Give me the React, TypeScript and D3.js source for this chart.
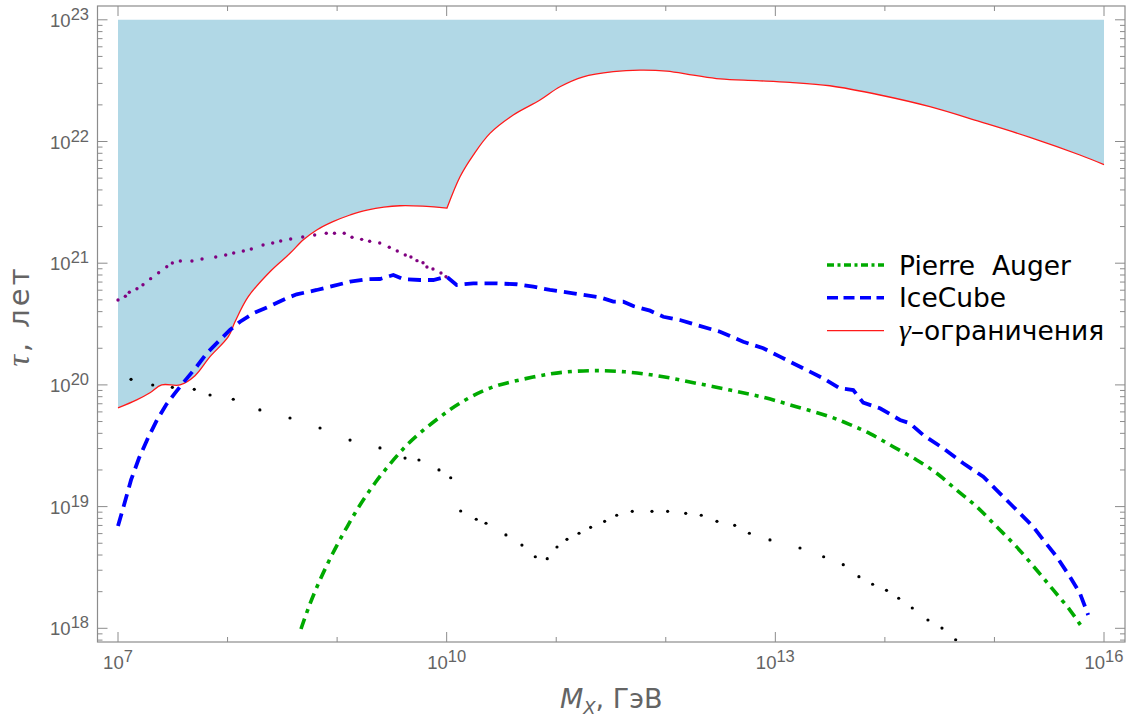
import React from "react";
import * as d3 from "d3";

// ---- data (log10 of mass in GeV, log10 of lifetime in years) ----
const gammaLogM = [7.0, 7.171, 7.292, 7.399, 7.566, 7.703, 7.84, 8.007, 8.068, 8.189, 8.387, 8.57, 8.689, 8.814, 8.962, 9.118, 9.273, 9.574, 10.003, 10.122, 10.243, 10.395, 10.608, 10.852, 11.034, 11.247, 11.521, 11.764, 12.008, 12.251, 12.495, 12.83, 13.133, 13.498, 13.955, 14.411, 14.867, 15.324, 15.78, 16.0];
const gammaLogTau = [19.811, 19.877, 19.936, 20.0, 20.0, 20.076, 20.232, 20.396, 20.519, 20.725, 20.93, 21.081, 21.19, 21.273, 21.341, 21.396, 21.437, 21.472, 21.453, 21.711, 21.889, 22.067, 22.218, 22.341, 22.45, 22.532, 22.574, 22.587, 22.579, 22.546, 22.514, 22.5, 22.486, 22.458, 22.382, 22.286, 22.163, 22.034, 21.889, 21.81];
const gammaKinkLogM = 10.003;

const iceLogM = [7.0, 7.055, 7.119, 7.192, 7.274, 7.356, 7.438, 7.52, 7.596, 7.718, 7.81, 7.915, 8.022, 8.114, 8.235, 8.387, 8.54, 8.631, 8.814, 8.965, 9.118, 9.27, 9.391, 9.513, 9.604, 9.756, 9.878, 10.0, 10.091, 10.243, 10.426, 10.639, 10.791, 10.943, 11.156, 11.399, 11.521, 11.612, 11.703, 11.856, 11.977, 12.129, 12.282, 12.495, 12.707, 12.89, 13.042, 13.255, 13.437, 13.59, 13.711, 13.802, 13.955, 14.138, 14.229, 14.35, 14.533, 14.715, 14.898, 15.02, 15.172, 15.354, 15.446, 15.568, 15.689, 15.78, 15.856];
const iceLogTau = [18.841, 19.013, 19.219, 19.399, 19.564, 19.712, 19.835, 19.933, 20.018, 20.15, 20.26, 20.355, 20.451, 20.519, 20.588, 20.648, 20.712, 20.744, 20.78, 20.813, 20.848, 20.868, 20.87, 20.903, 20.868, 20.862, 20.862, 20.889, 20.821, 20.835, 20.835, 20.827, 20.807, 20.78, 20.753, 20.72, 20.684, 20.684, 20.648, 20.61, 20.56, 20.533, 20.492, 20.437, 20.355, 20.301, 20.232, 20.136, 20.054, 19.972, 19.958, 19.854, 19.808, 19.712, 19.684, 19.588, 19.479, 19.356, 19.246, 19.136, 18.999, 18.835, 18.726, 18.588, 18.424, 18.288, 18.109];

const augerLogM = [8.67, 8.752, 8.844, 8.962, 9.09, 9.209, 9.346, 9.483, 9.62, 9.757, 9.939, 10.122, 10.395, 10.788, 11.065, 11.369, 11.673, 11.977, 12.282, 12.586, 12.89, 13.192, 13.497, 13.681, 13.864, 14.076, 14.29, 14.473, 14.655, 14.838, 15.02, 15.2, 15.385, 15.537, 15.689, 15.796];
const augerLogTau = [17.994, 18.2, 18.397, 18.619, 18.832, 19.013, 19.194, 19.35, 19.49, 19.605, 19.736, 19.851, 19.974, 20.064, 20.104, 20.117, 20.104, 20.067, 20.013, 19.958, 19.898, 19.821, 19.739, 19.674, 19.6, 19.492, 19.383, 19.274, 19.136, 18.999, 18.835, 18.671, 18.479, 18.315, 18.15, 18.013];

const blackLogM = [7.119, 7.317, 7.496, 7.696, 7.84, 8.052, 8.295, 8.57, 8.844, 9.118, 9.391, 9.62, 9.747, 9.93, 10.037, 10.128, 10.27, 10.359, 10.541, 10.687, 10.809, 10.918, 11.007, 11.098, 11.208, 11.314, 11.442, 11.552, 11.694, 11.874, 12.017, 12.182, 12.324, 12.467, 12.629, 12.763, 12.951, 13.225, 13.441, 13.62, 13.763, 13.888, 14.015, 14.126, 14.25, 14.393, 14.521, 14.646];
const blackLogTau = [20.046, 19.999, 19.98, 19.964, 19.917, 19.882, 19.794, 19.728, 19.646, 19.547, 19.482, 19.399, 19.383, 19.301, 19.237, 18.964, 18.896, 18.863, 18.767, 18.684, 18.588, 18.572, 18.668, 18.731, 18.781, 18.83, 18.879, 18.929, 18.961, 18.961, 18.961, 18.945, 18.929, 18.879, 18.846, 18.781, 18.726, 18.66, 18.588, 18.523, 18.424, 18.362, 18.312, 18.247, 18.167, 18.068, 18.002, 17.906];

const purpleLogM = [7.0, 7.067, 7.103, 7.173, 7.228, 7.298, 7.371, 7.445, 7.496, 7.569, 7.675, 7.767, 7.892, 7.983, 8.056, 8.144, 8.217, 8.324, 8.412, 8.485, 8.576, 8.686, 8.795, 8.901, 8.976, 9.065, 9.136, 9.224, 9.297, 9.389, 9.476, 9.549, 9.622, 9.674, 9.729, 9.784, 9.82, 9.875, 9.948, 9.994];
const purpleLogTau = [20.698, 20.728, 20.761, 20.79, 20.823, 20.873, 20.922, 20.971, 21.002, 21.018, 21.018, 21.034, 21.051, 21.067, 21.084, 21.1, 21.117, 21.15, 21.166, 21.182, 21.199, 21.215, 21.232, 21.246, 21.246, 21.246, 21.213, 21.196, 21.18, 21.166, 21.131, 21.1, 21.067, 21.051, 21.021, 21.004, 20.969, 20.952, 20.919, 20.889];

const xTickExps = [7, 8, 9, 10, 11, 12, 13, 14, 15, 16];
const xLabelExps = [7, 10, 13, 16];
const yTickExps = [17, 18, 19, 20, 21, 22, 23];
const yLabelExps = [18, 19, 20, 21, 22, 23];
const fillTopLogTau = 23;

const legendItems = [
  { key: "auger", label: "Pierre  Auger" },
  { key: "ice", label: "IceCube" },
  { key: "gamma", label: "–ограничения" },
];

const W = 1130;
const H = 718;
const F = { left: 97.5, right: 1125, top: 6, bottom: 642 };

const zip = (a: number[], b: number[]) => a.map((v, i) => [v, b[i]] as [number, number]);

export default function App() {
  const x = d3.scaleLog().domain([1e7, 1e16]).range([118, 1104]);
  const y = d3.scaleLog().domain([1e18, 1e23]).range([628.3, 19.8]);
  const px = (d: [number, number]) => x(Math.pow(10, d[0]));
  const py = (d: [number, number]) => y(Math.pow(10, d[1]));

  const gamma = zip(gammaLogM, gammaLogTau);
  const ice = zip(iceLogM, iceLogTau);
  const auger = zip(augerLogM, augerLogTau);
  const black = zip(blackLogM, blackLogTau);
  const purple = zip(purpleLogM, purpleLogTau);

  const lineLin = d3.line<[number, number]>().x(px).y(py);
  const lineSmooth = d3.line<[number, number]>().x(px).y(py).curve(d3.curveCatmullRom.alpha(0.5));

  // gamma curve: smooth pieces joined at the kink
  const kink = gammaLogM.indexOf(gammaKinkLogM);
  const segA = gamma.slice(0, kink + 1);
  const segB = gamma.slice(kink);
  const pathA = lineSmooth(segA) || "";
  const pathB = lineSmooth(segB) || "";
  const redPath = pathA + "L" + pathB.slice(1);
  const yTop = y(Math.pow(10, fillTopLogTau));
  const first = gamma[0];
  const last = gamma[gamma.length - 1];
  const areaPath =
    `M${px(first)},${yTop}L` + pathA.slice(1) + "L" + pathB.slice(1) + `L${px(last)},${yTop}Z`;

  const axisColor = "#8c8c8c";
  const labelColor = "#646464";

  const yTicks: { v: number; major: boolean }[] = [];
  yTickExps.forEach((e) => {
    for (let k = 1; k <= 9; k++) {
      const v = k * Math.pow(10, e);
      const yy = y(v);
      if (yy >= F.top && yy <= F.bottom) yTicks.push({ v, major: k === 1 });
    }
  });

  return (
    <svg width={W} height={H} style={{ position: "absolute", left: 0, top: 0, background: "#fff" }}>
      <defs>
        <clipPath id="plotclip">
          <rect x={F.left} y={F.top} width={F.right - F.left} height={F.bottom - F.top} />
        </clipPath>
      </defs>
      <g clipPath="url(#plotclip)">
        <path d={areaPath} fill="#b1d8e6" stroke="none" />
        <path d={redPath} fill="none" stroke="#ff1a1a" strokeWidth={1.3} />
        {purple.map((d, i) => (
          <circle key={"p" + i} cx={px(d)} cy={py(d)} r={1.7} fill="#800080" />
        ))}
        {black.map((d, i) => (
          <circle key={"b" + i} cx={px(d)} cy={py(d)} r={1.6} fill="#000" />
        ))}
        <path
          d={lineSmooth(auger) || ""}
          fill="none"
          stroke="#00aa00"
          strokeWidth={3.6}
          strokeDasharray="11,6,4,6"
        />
        <path
          d={lineLin(ice) || ""}
          fill="none"
          stroke="#0000ff"
          strokeWidth={3.8}
          strokeDasharray="13,7"
        />
      </g>

      <rect
        x={F.left}
        y={F.top}
        width={F.right - F.left}
        height={F.bottom - F.top}
        fill="none"
        stroke={axisColor}
        strokeWidth={1.2}
      />

      {xTickExps.map((e) => {
        const xx = x(Math.pow(10, e));
        const len = xLabelExps.includes(e) ? 10 : 5;
        return (
          <g key={"xt" + e}>
            <line x1={xx} x2={xx} y1={F.bottom} y2={F.bottom - len} stroke={axisColor} strokeWidth={1} />
            <line x1={xx} x2={xx} y1={F.top} y2={F.top + len} stroke={axisColor} strokeWidth={1} />
          </g>
        );
      })}
      {xLabelExps.map((e) => (
        <text
          key={"xl" + e}
          x={x(Math.pow(10, e))}
          y={669}
          textAnchor="middle"
          fontFamily="Liberation Sans, Arial, sans-serif"
          fontSize={18.5}
          fill={labelColor}
        >
          10
          <tspan fontSize={16.5} dy={-7}>
            {e}
          </tspan>
        </text>
      ))}

      {yTicks.map((t, i) => {
        const yy = y(t.v);
        const len = t.major ? 10 : 5;
        return (
          <g key={"yt" + i}>
            <line x1={F.left} x2={F.left + len} y1={yy} y2={yy} stroke={axisColor} strokeWidth={1} />
            <line x1={F.right} x2={F.right - len} y1={yy} y2={yy} stroke={axisColor} strokeWidth={1} />
          </g>
        );
      })}
      {yLabelExps.map((e) => (
        <text
          key={"yl" + e}
          x={89}
          y={y(Math.pow(10, e)) + 7}
          textAnchor="end"
          fontFamily="Liberation Sans, Arial, sans-serif"
          fontSize={18.5}
          fill={labelColor}
        >
          10
          <tspan fontSize={16.5} dy={-7}>
            {e}
          </tspan>
        </text>
      ))}

      <text
        transform="translate(29, 316) rotate(-90)"
        textAnchor="middle"
        fontFamily="DejaVu Sans, sans-serif"
        fontSize={29}
        letterSpacing={3}
        fill={labelColor}
      >
        <tspan fontFamily="Liberation Serif, serif" fontStyle="italic" fontSize={32}>
          τ
        </tspan>
        , лет
      </text>
      <text
        x={(F.left + F.right) / 2}
        y={708}
        textAnchor="middle"
        fontFamily="DejaVu Sans, sans-serif"
        fontSize={27}
        fill={labelColor}
      >
        <tspan fontStyle="italic">M</tspan>
        <tspan fontStyle="italic" fontSize={18} dy={6}>
          X
        </tspan>
        <tspan dy={-6}>, ГэВ</tspan>
      </text>

      {legendItems.map((it, i) => {
        const ly = 265 + i * 32.8;
        const stroke = it.key === "auger" ? "#00aa00" : it.key === "ice" ? "#0000ff" : "#ff1a1a";
        const sw = it.key === "gamma" ? 1.3 : 3.6;
        const dash = it.key === "auger" ? "7,3.5,3,3.5" : it.key === "ice" ? "11,5.5" : undefined;
        return (
          <g key={it.key}>
            <line x1={827} x2={884} y1={ly} y2={ly} stroke={stroke} strokeWidth={sw} strokeDasharray={dash} />
            <text x={899} y={ly + 9.5} fontFamily="DejaVu Sans, sans-serif" fontSize={26.5} fill="#000">
              {it.key === "gamma" ? (
                <>
                  <tspan fontFamily="Liberation Serif, serif" fontStyle="italic" fontSize={30}>
                    γ
                  </tspan>
                  <tspan>{it.label}</tspan>
                </>
              ) : (
                <tspan style={{ whiteSpace: "pre" }}>{it.label}</tspan>
              )}
            </text>
          </g>
        );
      })}
    </svg>
  );
}
